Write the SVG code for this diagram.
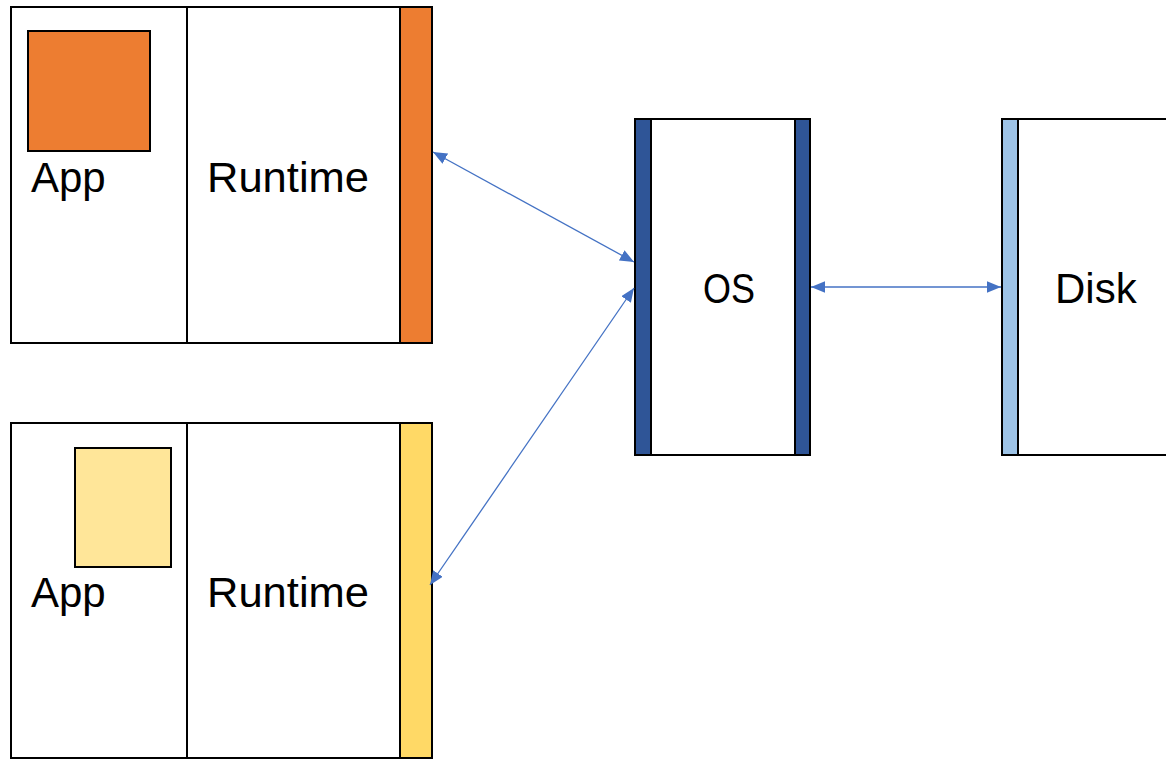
<svg xmlns="http://www.w3.org/2000/svg" width="1166" height="760" viewBox="0 0 1166 760">
<style>
.box{fill:#fff;stroke:#000;stroke-width:2}
.ln{stroke:#000;stroke-width:2}
.lbl{font-family:"Liberation Sans",Arial,sans-serif;font-size:42px;fill:#000}
.conn{stroke:#4472C4;stroke-width:1.3;fill:none;marker-start:url(#ah);marker-end:url(#ah)}
</style>
<defs>
<marker id="ah" viewBox="0 0 12 10" refX="12" refY="5" markerWidth="14" markerHeight="12" markerUnits="userSpaceOnUse" orient="auto-start-reverse">
<path d="M0,0 L12,5 L0,10 Z" fill="#4472C4"/>
</marker>
</defs>
<rect width="1166" height="760" fill="#fff"/>
<g id="proc1">
<rect class="box" x="11" y="7" width="421" height="336"/>
<line class="ln" x1="187" y1="7" x2="187" y2="343"/>
<rect x="400" y="7" width="32" height="336" fill="#ED7D31" stroke="#000" stroke-width="2"/>
<rect x="28" y="31" width="122" height="120" fill="#ED7D31" stroke="#000" stroke-width="2"/>
<text class="lbl" x="31" y="192">App</text>
<text class="lbl" x="207" y="192" textLength="162" lengthAdjust="spacingAndGlyphs">Runtime</text>
</g>
<g id="proc2">
<rect class="box" x="11" y="423" width="421" height="335"/>
<line class="ln" x1="187" y1="423" x2="187" y2="758"/>
<rect x="400" y="423" width="32" height="335" fill="#FFD966" stroke="#000" stroke-width="2"/>
<rect x="75" y="448" width="96" height="119" fill="#FFE699" stroke="#000" stroke-width="2"/>
<text class="lbl" x="31" y="607">App</text>
<text class="lbl" x="207" y="607" textLength="162" lengthAdjust="spacingAndGlyphs">Runtime</text>
</g>
<g id="os">
<rect class="box" x="635" y="119" width="175" height="336"/>
<rect x="635" y="119" width="16" height="336" fill="#2F5597" stroke="#000" stroke-width="2"/>
<rect x="795" y="119" width="15" height="336" fill="#2F5597" stroke="#000" stroke-width="2"/>
<text class="lbl" x="703" y="303" textLength="52" lengthAdjust="spacingAndGlyphs">OS</text>
</g>
<g id="disk">
<rect class="box" x="1002" y="119" width="170" height="336"/>
<rect x="1002" y="119" width="16" height="336" fill="#9DC3E6" stroke="#000" stroke-width="2"/>
<text class="lbl" x="1055" y="303">Disk</text>
</g>
<g id="connectors">
<line class="conn" x1="433" y1="152" x2="634" y2="262"/>
<line class="conn" x1="634" y1="288" x2="430" y2="585"/>
<line class="conn" x1="811" y1="287" x2="1001" y2="287"/>
</g>
</svg>
